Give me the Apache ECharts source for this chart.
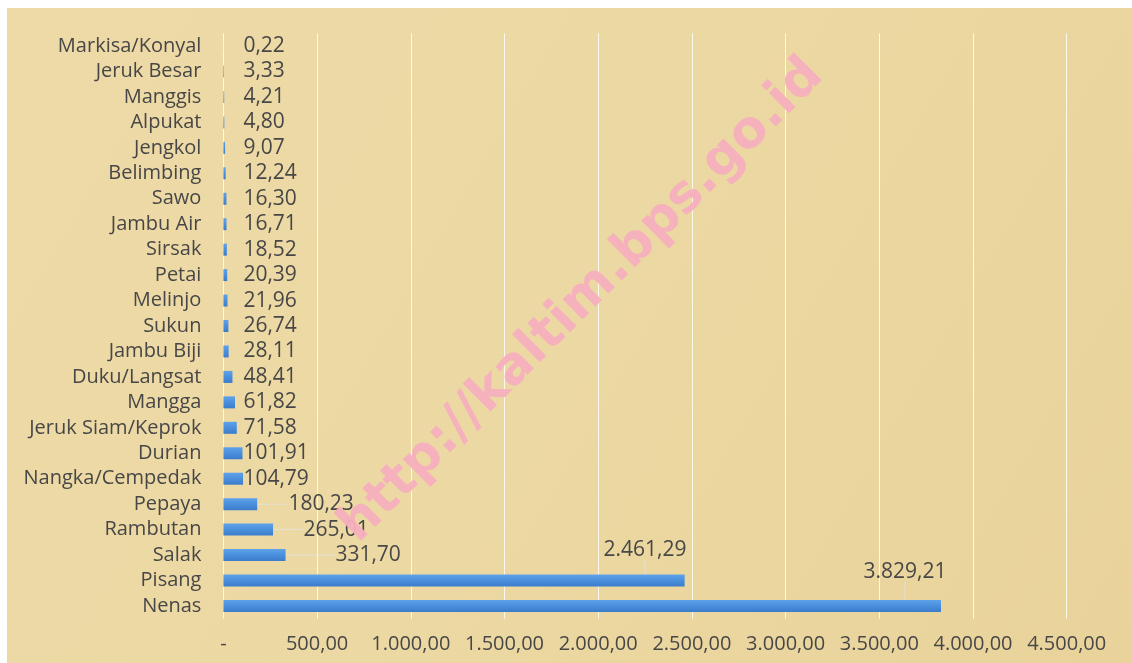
<!DOCTYPE html>
<html>
<head>
<meta charset="utf-8">
<script src="https://cdn.jsdelivr.net/npm/echarts@6/dist/echarts.min.js"></script>
<style>
  html, body { margin: 0; padding: 0; background: #fff; }
  #chart { position: absolute; left: 7px; top: 8px; width: 1125px; height: 655px; }
</style>
</head>
<body>
<div id="chart"></div>
<script>
// data, top to bottom as in the picture
var buah = [
  "Markisa/Konyal", "Jeruk Besar", "Manggis", "Alpukat", "Jengkol", "Belimbing",
  "Sawo", "Jambu Air", "Sirsak", "Petai", "Melinjo", "Sukun", "Jambu Biji",
  "Duku/Langsat", "Mangga", "Jeruk Siam/Keprok", "Durian", "Nangka/Cempedak",
  "Pepaya", "Rambutan", "Salak", "Pisang", "Nenas"
];
var produksi = [
  0.22, 3.33, 4.21, 4.80, 9.07, 12.24, 16.30, 16.71, 18.52, 20.39, 21.96, 26.74,
  28.11, 48.41, 61.82, 71.58, 101.91, 104.79, 180.23, 265.01, 331.70, 2461.29, 3829.21
];
var xTicks = [0, 500, 1000, 1500, 2000, 2500, 3000, 3500, 4000, 4500];

// label yang digeser (seperti di grafik aslinya)
var labelGeser = {
  "Pepaya": [45, 0],
  "Rambutan": [60, 0],
  "Salak": [92, 0],
  "Pisang": [360, -31],
  "Nenas": [620, -34]
};

// format angka gaya indonesia: 3.829,21
function fmt(v) {
  if (v === 0) return "-";
  var s = v.toFixed(2).split(".");
  s[0] = s[0].replace(/\B(?=(\d{3})+(?!\d))/g, ".");
  return s[0] + "," + s[1];
}

var chart = echarts.init(document.getElementById("chart"));
var teks = "#474747";
var font = "'Open Sans', sans-serif";

// garis penunjuk hanya untuk label yang digeser
var dataBar = produksi.map(function (v, i) {
  if (labelGeser[buah[i]]) return { value: v, labelLine: { show: true } };
  return v;
});

var option = {
  backgroundColor: {
    type: "linear", x: 0, y: 0, x2: 1, y2: 1,
    colorStops: [
      { offset: 0, color: "#eedaa7" },
      { offset: 0.5, color: "#ecd8a2" },
      { offset: 1, color: "#e9d39b" }
    ]
  },
  animation: false,
  grid: { left: 216.4, right: 65.3, top: 25.3, bottom: 44.3 },
  graphic: [
    {
      type: "text",
      x: 575, y: 293,
      rotation: Math.PI / 4,
      z: 100,
      style: {
        text: "http://kaltim.bps.go.id",
        font: "bold 52px 'DejaVu Sans', sans-serif",
        fill: "rgba(247,176,190,0.95)",
        align: "center",
        verticalAlign: "middle"
      }
    }
  ],
  xAxis: {
    type: "value",
    min: 0, max: 4500, interval: 500,
    axisLine: { show: false },
    axisTick: { show: false },
    splitLine: { show: true, lineStyle: { color: "rgba(253,250,240,0.95)", width: 1 } },
    axisLabel: {
      margin: 16,
      color: teks,
      fontFamily: font,
      fontSize: 20,
      formatter: function (v) { return xTicks.indexOf(v) >= 0 ? fmt(v) : ""; }
    }
  },
  yAxis: {
    type: "category",
    data: buah,
    inverse: true,
    axisLine: { show: false },
    axisTick: { show: false },
    axisLabel: { interval: 0, margin: 22, color: teks, fontFamily: font, fontSize: 20 }
  },
  series: [
    {
      type: "bar",
      data: dataBar,
      barWidth: 12,
      itemStyle: {
        color: {
          type: "linear", x: 0, y: 0, x2: 0, y2: 1,
          colorStops: [
            { offset: 0, color: "#5fa2ea" },
            { offset: 0.5, color: "#4a8fdc" },
            { offset: 1, color: "#3b7ccb" }
          ]
        }
      },
      label: {
        show: true,
        position: "insideLeft",
        distance: 20,
        color: teks,
        fontFamily: font,
        fontSize: 21,
        formatter: function (p) { return fmt(p.value); }
      },
      labelLine: {
        show: false,
        lineStyle: { color: "rgba(228,228,228,0.8)", width: 1 }
      },
      labelLayout: function (p) {
        var g = labelGeser[buah[p.dataIndex]];
        if (!g) return {};
        return { dx: g[0], dy: g[1] };
      }
    }
  ]
};

chart.setOption(option);
</script>
</body>
</html>
